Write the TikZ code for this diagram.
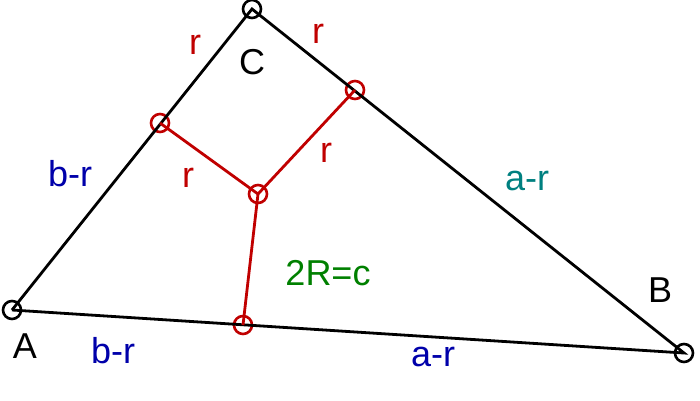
\documentclass[tikz,border=0pt]{standalone}
\usepackage{fontspec}
\setmainfont{Liberation Sans}
\usetikzlibrary{positioning}
\definecolor{dred}{RGB}{192,0,0}
\definecolor{dblue}{RGB}{0,0,170}
\definecolor{dteal}{RGB}{0,128,128}
\definecolor{dgreen}{RGB}{0,128,0}
\tikzset{
  pt/.style={circle, draw, line width=2.6pt, minimum size=18pt, inner sep=0pt},
  lbl/.style={inner sep=0pt, font=\fontsize{36}{40}\selectfont}
}

\begin{document}
\begin{tikzpicture}[x=1pt, y=-1pt, line width=2.8pt]
\useasboundingbox (0,0) rectangle (700,400);
\node[pt] (A) at (12, 310) {}; \node[pt] (C) at (252, 9) {};
\node[pt] (B) at (684, 353) {};
\node[pt, dred] (ta) at (160, 123) {}; \node[pt, dred] (tb) at (355, 90) {};
\node[pt, dred] (tc) at (243, 325) {}; \node[pt, dred] (I) at (258, 194) {};
\draw (A.center) to (C.center) to (B.center) to (A.center);
\draw[dred] (I.center) to (ta.center);
\draw[dred] (I.center) to (tb.center);
\draw[dred] (I.center) to (tc.center);
\node[lbl] (lA) at (25, 346) {A}; \node[lbl] (lB) at (660, 290) {B};
\node[lbl] (lC) at (252, 62) {C};
\node[lbl, dred] (rca) at (195, 45) {r}; \node[lbl, dred] (rcb) at (318, 34) {r};
\node[lbl, dred] (ria) at (188, 178) {r}; \node[lbl, dred] (rib) at (326, 153) {r};
\node[lbl, dblue] (bac) at (70, 174) {b-r}; \node[lbl, dblue] (bab) at (113, 351) {b-r};
\node[lbl, dteal] (acb) at (527, 181) {a-r}; \node[lbl, dblue] (aab) at (433, 357) {a-r};
\node[lbl, dgreen] (eq) at (328, 273) {2R=c};
\end{tikzpicture}
\end{document}
